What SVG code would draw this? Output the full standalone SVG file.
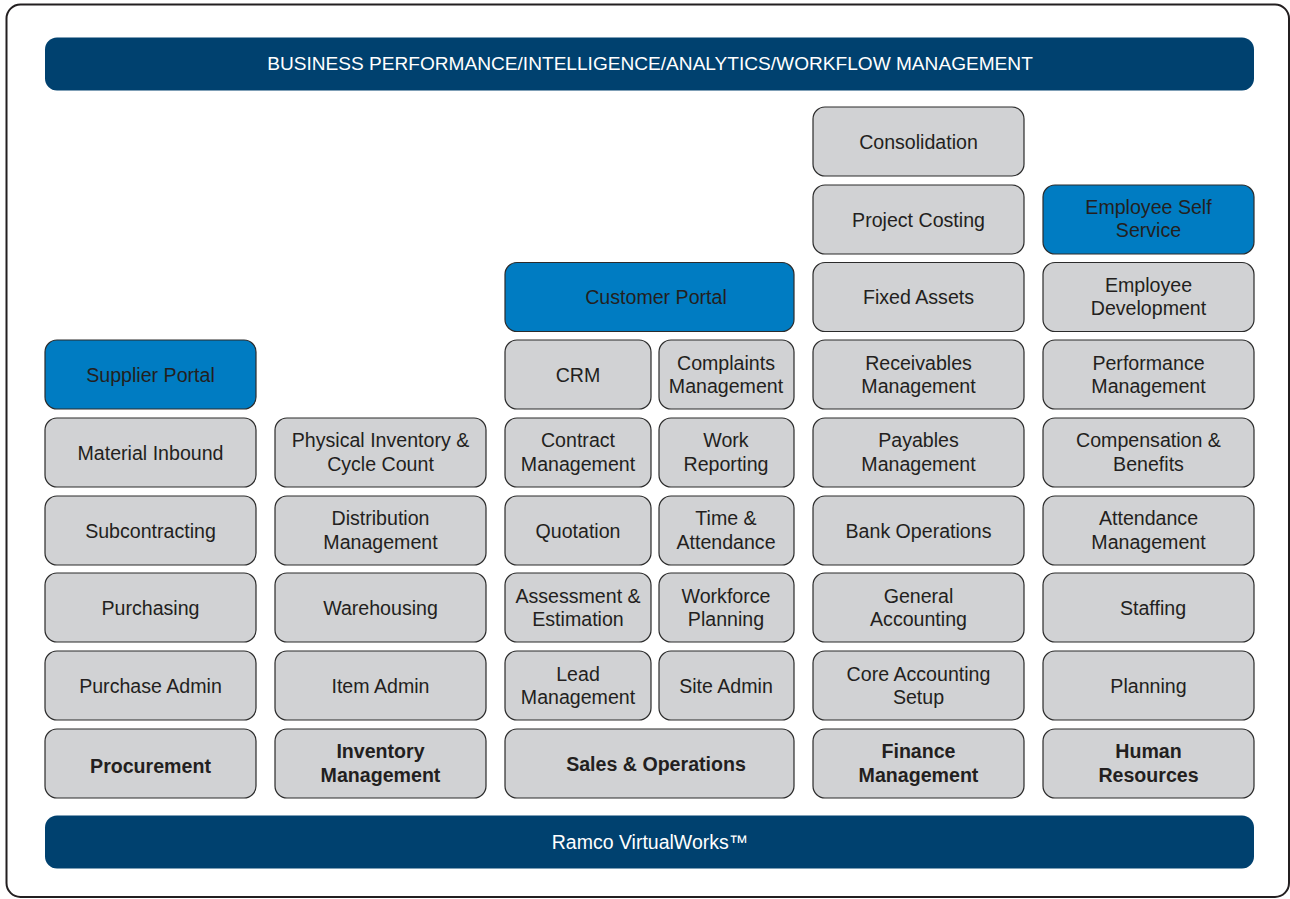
<svg xmlns="http://www.w3.org/2000/svg" width="1290" height="899" viewBox="0 0 1290 899">
<style>
.frame{fill:#fff;stroke:#231f20;stroke-width:2}
.bar{fill:#00416f}
.g{fill:#d1d2d4;stroke:#2b2b2b;stroke-width:1.2}
.b{fill:#007cc2;stroke:#2b2b2b;stroke-width:1.2}
text{font-family:"Liberation Sans",Arial,Helvetica,sans-serif;font-size:19.6px;fill:#231f20;text-anchor:middle}
.w{fill:#fff;font-size:19.1px}
.w2{fill:#fff;font-size:19.5px}
.bold{font-weight:bold}
</style>
<rect x="0" y="0" width="1290" height="899" fill="#fff"/>
<rect class="frame" x="6.5" y="4.5" width="1282.5" height="892.5" rx="14"/>
<g id="top-bar"><rect class="bar" x="45" y="37.5" width="1209" height="53" rx="12"/><text class="w" x="650" y="70">BUSINESS PERFORMANCE/INTELLIGENCE/ANALYTICS/WORKFLOW MANAGEMENT</text></g>
<g id="bottom-bar"><rect class="bar" x="45" y="815.5" width="1209" height="53" rx="12"/><text class="w2" x="650" y="849">Ramco VirtualWorks™</text></g>

<!-- Procurement column -->
<g id="supplier-portal"><rect class="b" x="45" y="340" width="211" height="69" rx="12"/><text x="150.5" y="381.5">Supplier Portal</text></g>
<g id="material-inbound"><rect class="g" x="45" y="418" width="211" height="69" rx="12"/><text x="150.5" y="459.5">Material Inbound</text></g>
<g id="subcontracting"><rect class="g" x="45" y="496" width="211" height="69" rx="12"/><text x="150.5" y="537.5">Subcontracting</text></g>
<g id="purchasing"><rect class="g" x="45" y="573" width="211" height="69" rx="12"/><text x="150.5" y="614.5">Purchasing</text></g>
<g id="purchase-admin"><rect class="g" x="45" y="651" width="211" height="69" rx="12"/><text x="150.5" y="692.5">Purchase Admin</text></g>
<g id="procurement"><rect class="g" x="45" y="729" width="211" height="69" rx="12"/><text class="bold" x="150.5" y="773">Procurement</text></g>

<!-- Inventory column -->
<g id="physical-inventory"><rect class="g" x="275" y="418" width="211" height="69" rx="12"/><text x="380.5" y="447">Physical Inventory &amp;</text><text x="380.5" y="471">Cycle Count</text></g>
<g id="distribution-management"><rect class="g" x="275" y="496" width="211" height="69" rx="12"/><text x="380.5" y="525">Distribution</text><text x="380.5" y="549">Management</text></g>
<g id="warehousing"><rect class="g" x="275" y="573" width="211" height="69" rx="12"/><text x="380.5" y="614.5">Warehousing</text></g>
<g id="item-admin"><rect class="g" x="275" y="651" width="211" height="69" rx="12"/><text x="380.5" y="692.5">Item Admin</text></g>
<g id="inventory-management"><rect class="g" x="275" y="729" width="211" height="69" rx="12"/><text class="bold" x="380.5" y="758">Inventory</text><text class="bold" x="380.5" y="782">Management</text></g>

<!-- Sales & Operations column -->
<g id="customer-portal"><rect class="b" x="505" y="262.5" width="289" height="69" rx="12"/><text x="656" y="304">Customer Portal</text></g>
<g id="crm"><rect class="g" x="505" y="340" width="146" height="69" rx="12"/><text x="578" y="381.5">CRM</text></g>
<g id="complaints-management"><rect class="g" x="659" y="340" width="135" height="69" rx="12"/><text x="726" y="370">Complaints</text><text x="726" y="393">Management</text></g>
<g id="contract-management"><rect class="g" x="505" y="418" width="146" height="69" rx="12"/><text x="578" y="447">Contract</text><text x="578" y="471">Management</text></g>
<g id="work-reporting"><rect class="g" x="659" y="418" width="135" height="69" rx="12"/><text x="726" y="447">Work</text><text x="726" y="471">Reporting</text></g>
<g id="quotation"><rect class="g" x="505" y="496" width="146" height="69" rx="12"/><text x="578" y="537.5">Quotation</text></g>
<g id="time-attendance"><rect class="g" x="659" y="496" width="135" height="69" rx="12"/><text x="726" y="525">Time &amp;</text><text x="726" y="549">Attendance</text></g>
<g id="assessment-estimation"><rect class="g" x="505" y="573" width="146" height="69" rx="12"/><text x="578" y="603">Assessment &amp;</text><text x="578" y="626">Estimation</text></g>
<g id="workforce-planning"><rect class="g" x="659" y="573" width="135" height="69" rx="12"/><text x="726" y="603">Workforce</text><text x="726" y="626">Planning</text></g>
<g id="lead-management"><rect class="g" x="505" y="651" width="146" height="69" rx="12"/><text x="578" y="681">Lead</text><text x="578" y="704">Management</text></g>
<g id="site-admin"><rect class="g" x="659" y="651" width="135" height="69" rx="12"/><text x="726" y="692.5">Site Admin</text></g>
<g id="sales-operations"><rect class="g" x="505" y="729" width="289" height="69" rx="12"/><text class="bold" x="656" y="771">Sales &amp; Operations</text></g>

<!-- Finance column -->
<g id="consolidation"><rect class="g" x="813" y="107" width="211" height="69" rx="12"/><text x="918.5" y="148.5">Consolidation</text></g>
<g id="project-costing"><rect class="g" x="813" y="185" width="211" height="69" rx="12"/><text x="918.5" y="226.5">Project Costing</text></g>
<g id="fixed-assets"><rect class="g" x="813" y="262.5" width="211" height="69" rx="12"/><text x="918.5" y="304">Fixed Assets</text></g>
<g id="receivables-management"><rect class="g" x="813" y="340" width="211" height="69" rx="12"/><text x="918.5" y="370">Receivables</text><text x="918.5" y="393">Management</text></g>
<g id="payables-management"><rect class="g" x="813" y="418" width="211" height="69" rx="12"/><text x="918.5" y="447">Payables</text><text x="918.5" y="471">Management</text></g>
<g id="bank-operations"><rect class="g" x="813" y="496" width="211" height="69" rx="12"/><text x="918.5" y="537.5">Bank Operations</text></g>
<g id="general-accounting"><rect class="g" x="813" y="573" width="211" height="69" rx="12"/><text x="918.5" y="603">General</text><text x="918.5" y="626">Accounting</text></g>
<g id="core-accounting-setup"><rect class="g" x="813" y="651" width="211" height="69" rx="12"/><text x="918.5" y="681">Core Accounting</text><text x="918.5" y="704">Setup</text></g>
<g id="finance-management"><rect class="g" x="813" y="729" width="211" height="69" rx="12"/><text class="bold" x="918.5" y="758">Finance</text><text class="bold" x="918.5" y="782">Management</text></g>

<!-- Human Resources column -->
<g id="employee-self-service"><rect class="b" x="1043" y="185" width="211" height="69" rx="12"/><text x="1148.5" y="214">Employee Self</text><text x="1148.5" y="237">Service</text></g>
<g id="employee-development"><rect class="g" x="1043" y="262.5" width="211" height="69" rx="12"/><text x="1148.5" y="292">Employee</text><text x="1148.5" y="315">Development</text></g>
<g id="performance-management"><rect class="g" x="1043" y="340" width="211" height="69" rx="12"/><text x="1148.5" y="370">Performance</text><text x="1148.5" y="393">Management</text></g>
<g id="compensation-benefits"><rect class="g" x="1043" y="418" width="211" height="69" rx="12"/><text x="1148.5" y="447">Compensation &amp;</text><text x="1148.5" y="471">Benefits</text></g>
<g id="attendance-management"><rect class="g" x="1043" y="496" width="211" height="69" rx="12"/><text x="1148.5" y="525">Attendance</text><text x="1148.5" y="549">Management</text></g>
<g id="staffing"><rect class="g" x="1043" y="573" width="211" height="69" rx="12"/><text x="1153" y="614.5">Staffing</text></g>
<g id="planning"><rect class="g" x="1043" y="651" width="211" height="69" rx="12"/><text x="1148.5" y="692.5">Planning</text></g>
<g id="human-resources"><rect class="g" x="1043" y="729" width="211" height="69" rx="12"/><text class="bold" x="1148.5" y="758">Human</text><text class="bold" x="1148.5" y="782">Resources</text></g>
<g id="connectors"></g>
</svg>
